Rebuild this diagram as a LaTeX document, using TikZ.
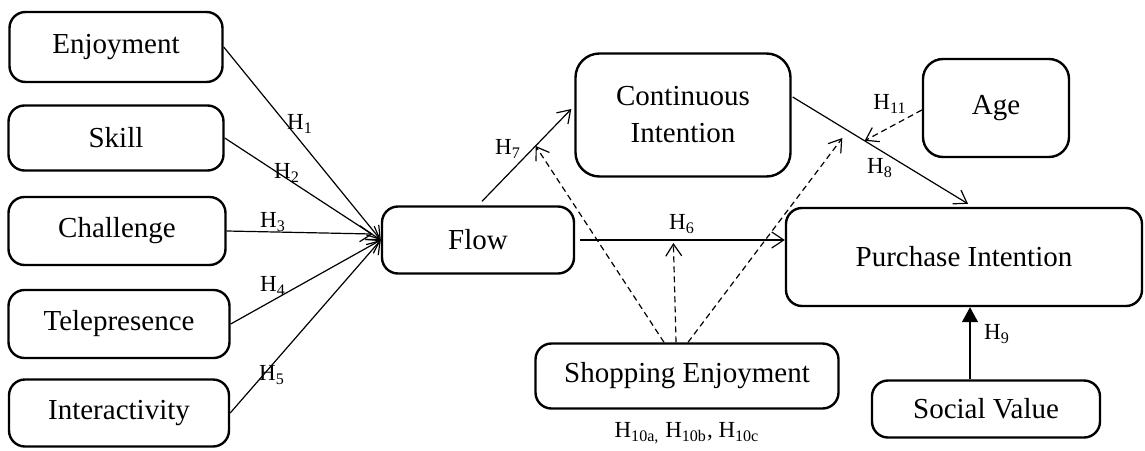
\documentclass[tikz,border=0pt]{standalone}
\usepackage{fontspec}
\setmainfont{Liberation Serif}
\usetikzlibrary{arrows.meta,positioning,calc}

\begin{document}
\begin{tikzpicture}[
x=0.5pt,y=-0.5pt,
box/.style={rectangle,draw,line width=1.2pt,rounded corners=8pt,align=center,inner sep=0pt,font=\fontsize{14.5}{18.5}\selectfont},
arr/.style={-{Straight Barb[length=6pt,width=8pt]},line width=0.6pt},
modarr/.style={arr,dash pattern=on 3pt off 2pt},
hyp/.style={inner sep=1pt,font=\fontsize{11.5}{13}\selectfont}
]
\useasboundingbox (0,0) rectangle (1145,450);

% predictors of flow
\node[box,minimum width=106.5pt,minimum height=35pt] (enj) at (116,47) {Enjoyment};
\node[box,minimum width=107.5pt,minimum height=32.5pt] (skill) at (116,138) {Skill};
\node[box,minimum width=108.5pt,minimum height=34pt] (chal) at (117,231) {Challenge};
\node[box,minimum width=110.5pt,minimum height=34pt] (tele) at (119,324) {Telepresence};
\node[box,minimum width=110pt,minimum height=33.5pt] (inter) at (119,413) {Interactivity};

\node[box,minimum width=96pt,minimum height=33.5pt] (flow) at (478,240) {Flow};
\node[box,rounded corners=12pt,minimum width=107.5pt,minimum height=61.5pt] (ci) at (683,115) {Continuous\\Intention};
\node[box,rounded corners=10pt,minimum width=73pt,minimum height=49pt] (age) at (996,108) {Age};
\node[box,minimum width=178pt,minimum height=49pt] (pi) at (964,257) {Purchase Intention};
\node[box,minimum width=114pt,minimum height=28.5pt] (sv) at (986,409) {Social Value};
\node[box,minimum width=151.5pt,minimum height=32.5pt] (se) at (687,376) {Shopping Enjoyment};

% direct paths
\draw[arr] (enj.east) -- (flow.west);
\draw[arr] (skill.east) -- (flow.west);
\draw[arr] (chal.east) -- ($(flow.west)+(-8,-6)$);
\draw[arr] (tele.east) -- (flow.west);
\draw[arr] (inter.east) -- (flow.west);

\draw[arr] ($(flow.north)+(4,-4)$) -- coordinate[pos=0.6] (m7) ($(ci.west)+(-3,-6)$);
\draw[arr] ($(flow.east)+(5,0)$) -- coordinate[pos=0.48] (m6) (flow.east -| pi.west);
\draw[arr] ($(ci.east)+(1,-18)$) -- coordinate[pos=0.41] (m8) coordinate[pos=0.3] (m10) ($(pi.north)+(4,-3)$);
\coordinate (svtop) at ($(sv.north)+(-16,0)$);
\draw[-{Triangle[length=7.5pt,width=8pt]},line width=0.6pt] (svtop) -- (svtop |- pi.south);

% moderators
\draw[modarr] ($(se.north)+(-23,0)$) -- (m7);
\draw[modarr] ($(se.north)+(-11,0)$) -- ($(m6)+(-5,3)$);
\draw[modarr] ($(se.north)+(1,0)$) -- ($(m10)+(-3,9)$);
\draw[modarr] ($(age.west)+(0,2)$) -- (m8);

% hypothesis labels
\node[hyp] (h1) at (300,124) {H\textsubscript{1}};
\node[hyp] (h2) at (287,173) {H\textsubscript{2}};
\node[hyp] (h3) at (273,222) {H\textsubscript{3}};
\node[hyp] (h4) at (273,286) {H\textsubscript{4}};
\node[hyp] (h5) at (272,375) {H\textsubscript{5}};
\node[hyp] (h6) at (682,224) {H\textsubscript{6}};
\node[hyp] (h7) at (508,149) {H\textsubscript{7}};
\node[hyp] (h8) at (880,168) {H\textsubscript{8}};
\node[hyp] (h9) at (997,334) {H\textsubscript{9}};
\node[hyp] (h10) at (687,433) {H\textsubscript{10a,} H\textsubscript{10b}, H\textsubscript{10c}};
\node[hyp] (h11) at (890,104) {H\textsubscript{11}};
\end{tikzpicture}
\end{document}
